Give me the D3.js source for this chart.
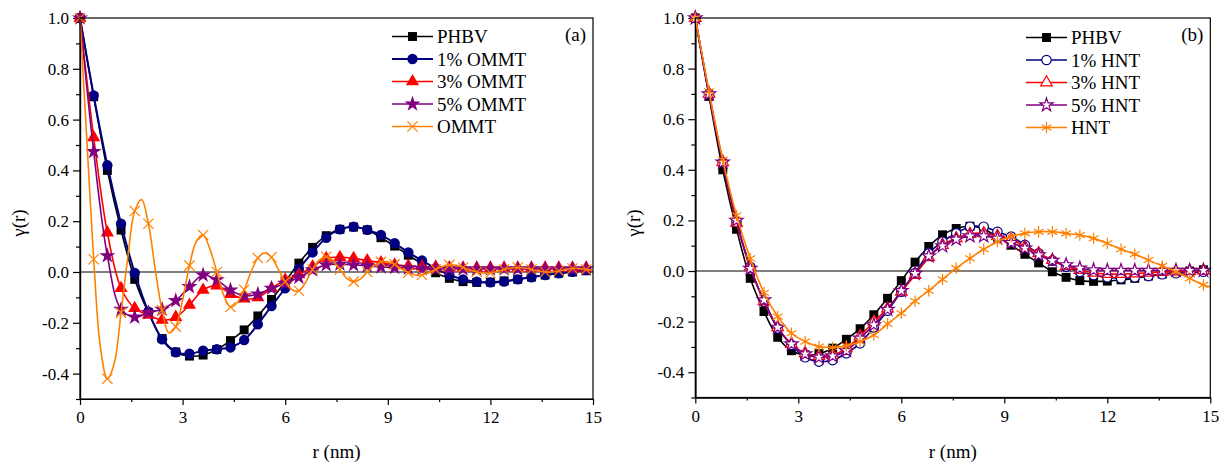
<!DOCTYPE html>
<html>
<head>
<meta charset="utf-8">
<script src="https://cdnjs.cloudflare.com/ajax/libs/d3/7.8.5/d3.min.js"></script>
<style>
body { margin: 0; background: #fff; }
svg text { font-family: "Liberation Serif", "Times New Roman", Times, "DejaVu Serif", serif !important; fill: #000; }
</style>
</head>
<body>
<svg width="1228" height="465"></svg>
<script>
// r positions (nm) of the plotted points
var rGrid = [0, 0.4, 0.8, 1.2, 1.6, 2.0, 2.4, 2.8, 3.2, 3.6, 4.0, 4.4, 4.8, 5.2, 5.6, 6.0, 6.4, 6.8, 7.2, 7.6,
             8.0, 8.4, 8.8, 9.2, 9.6, 10.0, 10.4, 10.8, 11.2, 11.6, 12.0, 12.4, 12.8, 13.2, 13.6, 14.0, 14.4, 14.8];
var rFine = [0, 0.2, 0.4, 0.6, 0.8, 1.0, 1.2, 1.4, 1.6, 1.8, 2.0, 2.2, 2.4, 2.6, 2.8, 3.0, 3.2, 3.4, 3.6, 3.8,
             4.0, 4.2, 4.4, 4.6, 4.8, 5.0, 5.2, 5.4, 5.6, 5.8, 6.0, 6.2, 6.4, 6.6, 6.8, 7.0, 7.2, 7.4, 7.6, 7.8,
             8.0, 8.2, 8.4, 8.6, 8.8, 9.0, 9.2, 9.4, 9.6, 9.8, 10.0, 10.2, 10.4, 10.6, 10.8, 11.0, 11.2, 11.4, 11.6, 11.8,
             12.0, 12.2, 12.4, 12.6, 12.8, 13.0, 13.2, 13.4, 13.6, 13.8, 14.0, 14.2, 14.4, 14.6, 14.8, 15.0];
var rHnt = rGrid.concat([15]);

// gamma(r) values, panel (a)
var phbv = [1.0, 0.69, 0.40, 0.165, -0.029, -0.16, -0.262, -0.315, -0.331, -0.327,
            -0.305, -0.27, -0.228, -0.173, -0.108, -0.038, 0.035, 0.097, 0.143, 0.168,
            0.177, 0.166, 0.135, 0.102, 0.066, 0.032, -0.003, -0.025, -0.038, -0.041,
            -0.04, -0.035, -0.029, -0.02, -0.012, -0.005, 0.0, 0.005];
var ommt1 = [1.0, 0.695, 0.42, 0.19, -0.004, -0.156, -0.265, -0.316, -0.322, -0.31,
             -0.304, -0.297, -0.268, -0.206, -0.134, -0.064, 0.012, 0.077, 0.135, 0.168,
             0.178, 0.166, 0.146, 0.113, 0.077, 0.045, 0.014, -0.012, -0.029, -0.038,
             -0.041, -0.038, -0.029, -0.021, -0.012, -0.005, 0.001, 0.008];
var ommt3 = [1.0, 0.53, 0.155, -0.064, -0.143, -0.169, -0.189, -0.178, -0.13, -0.071,
             -0.054, -0.087, -0.105, -0.1, -0.064, -0.031, -0.01, 0.021, 0.054, 0.058,
             0.054, 0.045, 0.037, 0.028, 0.024, 0.021, 0.02, 0.017, 0.016, 0.016,
             0.016, 0.016, 0.016, 0.016, 0.016, 0.016, 0.016, 0.016];
var ommt5 = [1.0, 0.474, 0.064, -0.147, -0.178, -0.16, -0.147, -0.113, -0.058, -0.012,
             -0.031, -0.071, -0.094, -0.087, -0.064, -0.045, -0.021, 0.008, 0.028, 0.031,
             0.028, 0.024, 0.02, 0.018, 0.015, 0.013, 0.012, 0.012, 0.012, 0.012,
             0.012, 0.012, 0.012, 0.012, 0.012, 0.012, 0.012, 0.012];
var ommt = [1.0, 0.52, 0.05, -0.30, -0.42, -0.36, -0.16, 0.06, 0.24, 0.285,
            0.19, 0.01, -0.15, -0.24, -0.215, -0.11, 0.025, 0.12, 0.146, 0.09,
            0.0, -0.09, -0.138, -0.12, -0.07, 0.0, 0.055, 0.075, 0.058, 0.01,
            -0.038, -0.07, -0.074, -0.04, 0.01, 0.048, 0.06, 0.045, 0.01, -0.025,
            -0.038, -0.028, 0.0, 0.025, 0.04, 0.04, 0.03, 0.012, -0.003, -0.012,
            -0.012, -0.003, 0.01, 0.022, 0.028, 0.026, 0.018, 0.008, 0.0, -0.004,
            -0.004, 0.002, 0.01, 0.016, 0.018, 0.016, 0.01, 0.004, 0.0, 0.0,
            0.004, 0.01, 0.014, 0.014, 0.01, 0.006];

// gamma(r) values, panel (b)
var hnt1 = [1.0, 0.70, 0.43, 0.195, 0.017, -0.121, -0.227, -0.292, -0.341, -0.358,
            -0.352, -0.325, -0.286, -0.223, -0.157, -0.082, -0.008, 0.07, 0.116, 0.149,
            0.175, 0.175, 0.155, 0.136, 0.103, 0.07, 0.041, 0.017, -0.003, -0.016,
            -0.025, -0.029, -0.025, -0.02, -0.013, -0.009, -0.007, -0.003];
var hnt3 = [1.0, 0.70, 0.43, 0.19, 0.017, -0.12, -0.223, -0.289, -0.325, -0.336,
            -0.332, -0.306, -0.257, -0.2, -0.148, -0.082, -0.016, 0.054, 0.103, 0.129,
            0.146, 0.149, 0.138, 0.125, 0.096, 0.07, 0.043, 0.02, 0.004, -0.007,
            -0.012, -0.012, -0.01, -0.007, -0.004, -0.002, 0.0, 0.002];
var hnt5 = [1.0, 0.70, 0.43, 0.2, 0.01, -0.115, -0.223, -0.289, -0.328, -0.341,
            -0.336, -0.315, -0.266, -0.213, -0.152, -0.078, -0.01, 0.059, 0.099, 0.125,
            0.138, 0.138, 0.129, 0.112, 0.09, 0.063, 0.041, 0.024, 0.011, 0.004,
            0.002, 0.002, 0.002, 0.002, 0.002, 0.002, 0.002, 0.002];
var hnt = [1.0, 0.71, 0.44, 0.22, 0.05, -0.086, -0.18, -0.246, -0.279, -0.299,
           -0.302, -0.296, -0.279, -0.253, -0.209, -0.167, -0.119, -0.078, -0.033, 0.011,
           0.05, 0.086, 0.116, 0.136, 0.149, 0.155, 0.155, 0.149, 0.142, 0.129,
           0.109, 0.086, 0.067, 0.043, 0.02, -0.003, -0.029, -0.055, -0.062];

// ticks
var xTicks = [0, 3, 6, 9, 12, 15];
var xMinor = [1.5, 4.5, 7.5, 10.5, 13.5];
var yTicks = [-0.4, -0.2, 0.0, 0.2, 0.4, 0.6, 0.8, 1.0];
var yTickLabels = ["-0.4", "-0.2", "0.0", "0.2", "0.4", "0.6", "0.8", "1.0"];
var yMinor = [-0.5, -0.3, -0.1, 0.1, 0.3, 0.5, 0.7, 0.9];

var svg = d3.select("svg");

var panelA = {
    left: 80, right: 593, top: 18, bottom: 399, tag: "(a)",
    legendX: 392, legendY: 36.5,
    series: [
        {name: "PHBV", r: rGrid, v: phbv, color: "#000000", lw: 1.6, sym: d3.symbolSquare, size: 80, fill: "#000000"},
        {name: "1% OMMT", r: rGrid, v: ommt1, color: "#000080", lw: 2, sym: d3.symbolCircle, size: 85, fill: "#000080"},
        {name: "3% OMMT", r: rGrid, v: ommt3, color: "#ff0000", lw: 1.6, sym: d3.symbolTriangle, size: 75, fill: "#ff0000"},
        {name: "5% OMMT", r: rGrid, v: ommt5, color: "#800080", lw: 1.6, sym: d3.symbolStar, size: 80, fill: "#800080"},
        {name: "OMMT", r: rFine, v: ommt, color: "#ff8000", lw: 1.6, sym: d3.symbolTimes, size: 70, fill: "none", marks: rGrid}
    ]
};

var panelB = {
    left: 695.3, right: 1210.3, top: 18, bottom: 397.5, tag: "(b)",
    legendX: 1026, legendY: 37.5,
    series: [
        {name: "PHBV", r: rGrid, v: phbv, color: "#000000", lw: 1.6, sym: d3.symbolSquare, size: 80, fill: "#000000"},
        {name: "1% HNT", r: rGrid, v: hnt1, color: "#000080", lw: 1.6, sym: d3.symbolCircle, size: 70, fill: "#ffffff"},
        {name: "3% HNT", r: rGrid, v: hnt3, color: "#ff0000", lw: 1.6, sym: d3.symbolTriangle, size: 58, fill: "#ffffff"},
        {name: "5% HNT", r: rGrid, v: hnt5, color: "#800080", lw: 1.6, sym: d3.symbolStar, size: 55, fill: "#ffffff"},
        {name: "HNT", r: rHnt, v: hnt, color: "#ff8000", lw: 1.6, sym: d3.symbolAsterisk, size: 90, fill: "none", marks: rGrid}
    ]
};

function drawMarker(sel, s) {
    sel.attr("d", d3.symbol().type(s.sym).size(s.size))
        .attr("fill", s.fill)
        .attr("stroke", s.fill == s.color ? "none" : s.color)
        .attr("stroke-width", 1.2);
}

function drawPanel(p) {
    var x = d3.scaleLinear().domain([0, 15]).range([p.left, p.right]);
    var y = d3.scaleLinear().domain([-0.5, 1.0]).range([p.bottom, p.top]);
    var g = svg.append("g");

    // zero line
    g.append("line")
        .attr("x1", x(0)).attr("x2", x(15))
        .attr("y1", y(0)).attr("y2", y(0))
        .attr("stroke", "#000").attr("stroke-width", 1);

    // axes: minor ticks then major ticks with labels
    g.append("g").attr("transform", "translate(0," + p.bottom + ")")
        .call(d3.axisBottom(x).tickValues(xMinor).tickSize(3).tickSizeOuter(0).tickFormat(""));
    g.append("g").attr("transform", "translate(0," + p.bottom + ")")
        .call(d3.axisBottom(x).tickValues(xTicks).tickSize(6).tickSizeOuter(0).tickPadding(6)
            .tickFormat(function(d) { return d; }));
    g.append("g").attr("transform", "translate(" + p.left + ",0)")
        .call(d3.axisLeft(y).tickValues(yMinor).tickSize(4).tickSizeOuter(0).tickFormat(""));
    g.append("g").attr("transform", "translate(" + p.left + ",0)")
        .call(d3.axisLeft(y).tickValues(yTicks).tickSize(7).tickSizeOuter(0).tickPadding(4)
            .tickFormat(function(d, i) { return yTickLabels[i]; }));
    g.selectAll(".tick text").style("font-size", "17px");
    g.selectAll(".domain").attr("stroke-width", 1.2);
    g.selectAll(".tick line").attr("stroke-width", 1.2);

    // series
    var line = d3.line()
        .x(function(d) { return x(d[0]); })
        .y(function(d) { return y(d[1]); })
        .curve(d3.curveCatmullRom);

    p.series.forEach(function(s) {
        var pts = s.r.map(function(r, i) { return [r, s.v[i]]; });
        g.append("path").datum(pts)
            .attr("d", line)
            .attr("fill", "none")
            .attr("stroke", s.color)
            .attr("stroke-width", s.lw);
        var markPts = pts;
        if (s.marks) {
            markPts = pts.filter(function(d) {
                return s.marks.some(function(m) { return Math.abs(m - d[0]) < 1e-6; });
            });
        }
        g.selectAll(null).data(markPts).enter().append("path")
            .attr("transform", function(d) { return "translate(" + x(d[0]) + "," + y(d[1]) + ")"; })
            .call(drawMarker, s);
    });

    // frame
    g.append("rect")
        .attr("x", p.left).attr("y", p.top)
        .attr("width", p.right - p.left).attr("height", p.bottom - p.top)
        .attr("fill", "none").attr("stroke", "#000").attr("stroke-width", 1.2);

    // axis titles
    g.append("text")
        .attr("x", (p.left + p.right) / 2).attr("y", 458)
        .attr("text-anchor", "middle").style("font-size", "19px")
        .text("r (nm)");
    g.append("text")
        .attr("transform", "translate(" + (p.left - 55) + ",223) rotate(-90)")
        .attr("text-anchor", "middle").style("font-size", "19px")
        .text("γ(r)");

    // panel tag
    g.append("text")
        .attr("x", p.right - 7).attr("y", 41)
        .attr("text-anchor", "end").style("font-size", "19px")
        .text(p.tag);

    // legend
    var lg = g.append("g").attr("transform", "translate(" + p.legendX + "," + p.legendY + ")");
    p.series.forEach(function(s, i) {
        var row = lg.append("g").attr("transform", "translate(0," + (i * 22.5) + ")");
        row.append("line").attr("x1", 0).attr("x2", 41).attr("y1", 0).attr("y2", 0)
            .attr("stroke", s.color).attr("stroke-width", s.lw);
        row.append("path").attr("transform", "translate(20.5,0)").call(drawMarker, s);
        row.append("text").attr("x", 45).attr("y", 6.5)
            .style("font-size", "19px")
            .text(s.name);
    });
}

drawPanel(panelA);
drawPanel(panelB);
</script>
</body>
</html>
